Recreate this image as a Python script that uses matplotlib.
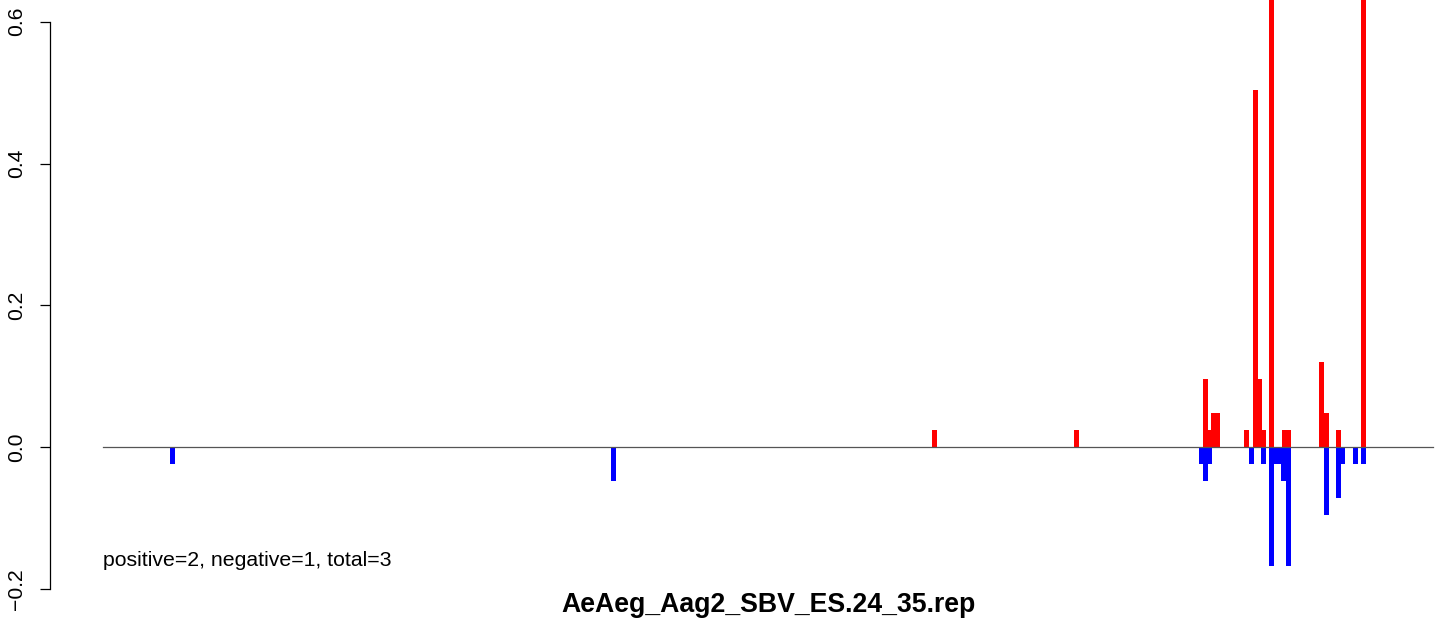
import numpy as np
import matplotlib
matplotlib.use('Agg')
import matplotlib.pyplot as plt

plt.rcParams['font.family'] = ['Liberation Sans', 'DejaVu Sans']

# genome coordinates (nt) and normalised read counts
genome_len = 8832
neg_pos = [461, 3390, 7294, 7321, 7347, 7626, 7706, 7759, 7792, 7812,
           7839, 7872, 8124, 8204, 8230, 8317, 8370]
neg_val = [-0.024, -0.048, -0.024, -0.048, -0.024, -0.024, -0.024, -0.168, -0.024, -0.024,
           -0.048, -0.168, -0.096, -0.072, -0.024, -0.024, -0.024]
pos_pos = [5521, 6464, 7321, 7341, 7374, 7400, 7593, 7653, 7679, 7706,
           7759, 7845, 7872, 8091, 8124, 8204, 8370]
pos_val = [0.024, 0.024, 0.096, 0.024, 0.048, 0.048, 0.024, 0.504, 0.096, 0.024,
           1.0, 0.024, 0.024, 0.12, 0.048, 0.024, 1.0]
yticks = [-0.2, 0.0, 0.2, 0.4, 0.6]
title = 'AeAeg_Aag2_SBV_ES.24_35.rep'
note = 'positive=2, negative=1, total=3'

W, H = 1444, 620
fig = plt.figure(figsize=(W/100, H/100), dpi=100)
ax = fig.add_axes([0, 0, 1, 1])

# pixel -> data helpers for the frame
nt_per_px = genome_len / 1330.0
x0_px = 103
ax.set_xlim(-x0_px*nt_per_px, (W - x0_px)*nt_per_px)
px_per_unit = 708.75
ax.set_ylim((447 - H)/px_per_unit, 447/px_per_unit)

bw = 5*nt_per_px
ax.bar(neg_pos, neg_val, width=bw, color='#0000ff', linewidth=0, align='center')
ax.bar(pos_pos, pos_val, width=bw, color='#ff0000', linewidth=0, align='center')
ax.plot([0, genome_len], [0, 0], color='#555555', lw=0.9)

for s in ['top', 'right', 'bottom']:
  ax.spines[s].set_visible(False)
ax.spines['left'].set_position(('axes', 50/W))
ax.spines['left'].set_bounds(-0.2, 0.6)
ax.spines['left'].set_linewidth(0.9)
ax.set_xticks([])
ax.set_yticks(yticks)
ax.set_yticklabels(['\u22120.2' if t < 0 else f'{t:.1f}' for t in yticks],
                   rotation=90, va='center', fontsize=15.2)
ax.tick_params(axis='y', length=7.5, width=0.9, pad=10)

ax.text(0, (447 - 561)/px_per_unit, note, ha='left', va='center', fontsize=15.3)
ax.text(genome_len/2, (447 - 605)/px_per_unit, title, ha='center', va='center',
        fontsize=19.2, fontweight='bold')

fig.savefig('out.png', dpi=100)
